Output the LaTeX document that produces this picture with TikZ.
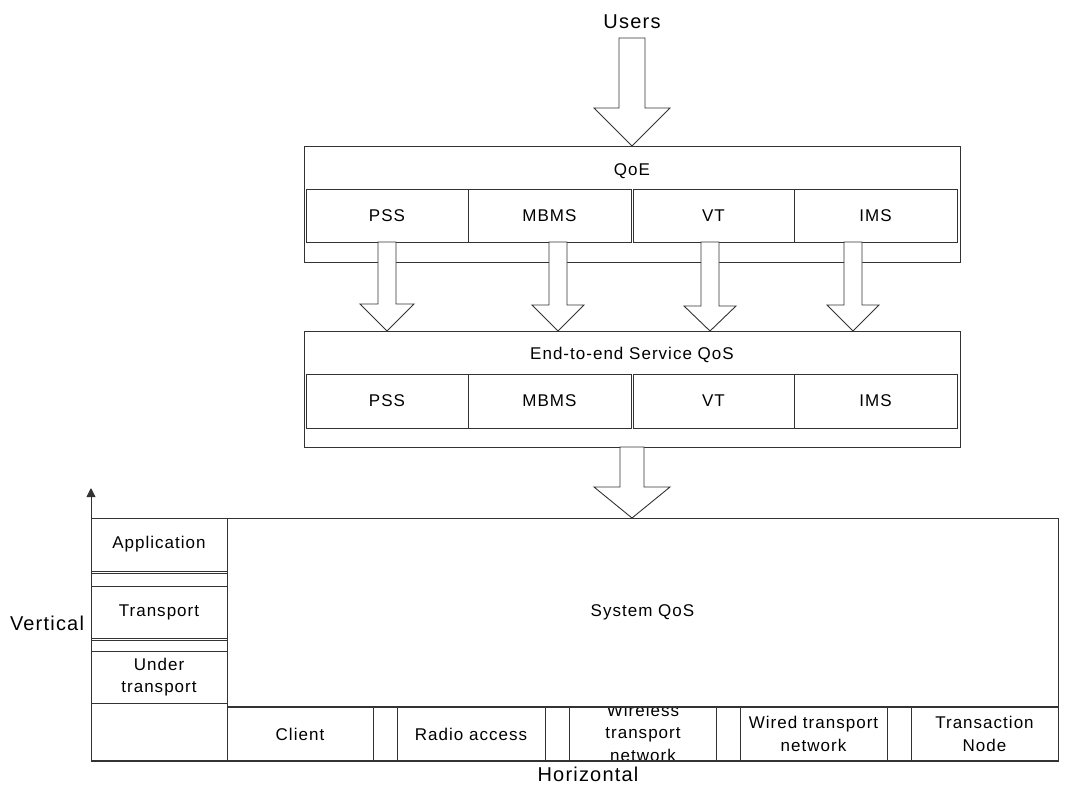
\documentclass[tikz,border=0pt]{standalone}
\usepackage{fontspec}
\setmainfont{Liberation Sans}[LetterSpace=6]
\usetikzlibrary{calc,arrows.meta}
\definecolor{linec}{gray}{0.2}
\tikzset{
 lbl/.style={font=\fontsize{17}{22.5}\selectfont, align=center, inner sep=0pt, text=black},
 big/.style={font=\fontsize{20}{24}\selectfont, inner sep=0pt, text=black},
 cell/.style={draw=linec, line width=0.9pt, fill=white, inner sep=0pt, outer sep=0pt, lbl},
 blk/.style={draw=linec, line width=0.9pt, fill=white, line join=miter},
 axis/.style={draw=linec, line width=0.9pt, -{Triangle[width=9pt,length=9pt]}},
}
\newcommand\mycell[6]{%
 \node[cell, minimum width={(#4-#2)*1pt}, minimum height={(#5-#3)*1pt}] (#1) at ({(#2+#4)/2},{(#3+#5)/2}) {#6};}
\newcommand\blockarrow[5]{%
 \draw[blk] let \p1=(#1), \p2=(#2) in
  (\x1-#3pt,\y1) -- (\x1+#3pt,\y1) -- (\x1+#3pt,\y2+#5pt) -- (\x1+#4pt,\y2+#5pt)
  -- (\x1,\y2) -- (\x1-#4pt,\y2+#5pt) -- (\x1-#3pt,\y2+#5pt) -- cycle;}
\begin{document}
\begin{tikzpicture}[x=1pt,y=-1pt]
\useasboundingbox (0,0) rectangle (1071,785);
% Users
\node[big] (users) at (632,22) {Users};
% QoE
\mycell{qoe}{304}{146}{960}{262}{}
\node[lbl] (qoeT) at (632,171) {QoE};
\mycell{qpss}{306}{189}{468}{242}{PSS}
\mycell{qmbms}{468}{189}{631}{242}{MBMS}
\mycell{qvt}{633}{189}{794}{242}{VT}
\mycell{qims}{794}{189}{957}{242}{IMS}
% End-to-end
\mycell{e2e}{304}{331}{960}{447}{}
\node[lbl] (e2eT) at (632,355) {End-to-end Service QoS};
\mycell{epss}{306}{374}{468}{428}{PSS}
\mycell{embms}{468}{374}{631}{428}{MBMS}
\mycell{evt}{633}{374}{794}{428}{VT}
\mycell{eims}{794}{374}{957}{428}{IMS}
% left column
\mycell{leftcol}{91}{518}{227}{761}{}
\mycell{app}{91}{518}{227}{571}{Application}
\mycell{gapa}{91}{573}{227}{586}{}
\mycell{trans}{91}{586}{227}{638}{Transport}
\mycell{gapb}{91}{640}{227}{651}{}
\mycell{under}{91}{651}{227}{703}{Under\\transport}
% bottom row
\mycell{client}{227}{707}{373}{761}{Client}
\mycell{ga}{373}{707}{397}{761}{}
\mycell{radio}{397}{707}{545}{761}{Radio access}
\mycell{gb}{545}{707}{569}{761}{}
\mycell{wireless}{569}{707}{716}{761}{}
\node[lbl] (wirelessT) at (643,732.5) {Wireless\\transport\\network};
\mycell{gc}{716}{707}{740}{761}{}
\mycell{wired}{740}{707}{887}{761}{Wired transport\\network}
\mycell{gd}{887}{707}{911}{761}{}
\mycell{tn}{911}{707}{1058}{761}{Transaction\\Node}
% System QoS
\mycell{sys}{227}{518}{1058}{707}{System QoS}
\draw[draw=linec, line width=1.8pt] (sys.south west) -- (sys.south east);
\draw[draw=linec, line width=1.4pt] (leftcol.south west) -- (tn.south east);
% axes
\coordinate (vtip) at (91,488);
\draw[axis] (leftcol.south west) -- (vtip);
\node[big] (vert) at (47,623) {Vertical};
\node[big] (horiz) at (588,774) {Horizontal};
% block arrows
\coordinate (uTop) at (632,38);
\blockarrow{uTop}{qoe.north}{13}{38}{38}
\coordinate (a1) at (387,242);
\coordinate (a2) at (558,242);
\coordinate (a3) at (710,242);
\coordinate (a4) at (853,242);
\blockarrow{a1}{e2e.north}{9}{27}{27}
\blockarrow{a2}{e2e.north}{9}{26}{26}
\blockarrow{a3}{e2e.north}{9}{26}{25}
\blockarrow{a4}{e2e.north}{9}{26}{26}
\blockarrow{e2e.south}{sys.north}{12}{38}{31}
\end{tikzpicture}
\end{document}
